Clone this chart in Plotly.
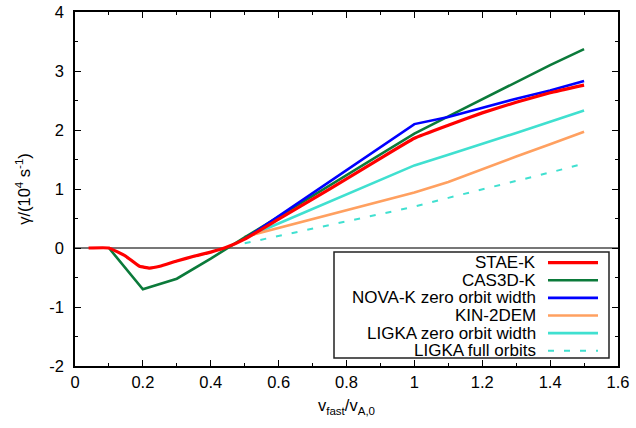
import plotly.graph_objects as go

# Growth rate vs. fast-particle velocity for the different codes
x_stae = [0.04, 0.10, 0.15, 0.19, 0.22, 0.25, 0.30, 0.35, 0.40, 0.45, 0.50,
          0.60, 0.70, 0.80, 0.90, 1.00, 1.10, 1.20, 1.30, 1.40, 1.50]
y_stae = [0.0, 0.0, -0.14, -0.31, -0.34, -0.31, -0.22, -0.14, -0.07, 0.02, 0.15,
          0.49, 0.83, 1.17, 1.52, 1.86, 2.08, 2.29, 2.47, 2.63, 2.76]

x_cas = [0.1, 0.2, 0.3, 0.4, 0.5, 1.0, 1.1, 1.2, 1.3, 1.4, 1.5]
y_cas = [0.0, -0.70, -0.52, -0.18, 0.18, 1.94, 2.23, 2.52, 2.81, 3.10, 3.37]

x_hi = [0.5, 1.0, 1.1, 1.2, 1.3, 1.4, 1.5]
y_nova = [0.15, 2.10, 2.22, 2.38, 2.53, 2.67, 2.83]
y_kin = [0.19, 0.94, 1.12, 1.34, 1.55, 1.76, 1.97]
y_ligka_zow = [0.17, 1.40, 1.58, 1.76, 1.95, 2.14, 2.33]
y_ligka_full = [0.08, 0.70, 0.85, 0.99, 1.13, 1.28, 1.43]

names = ["STAE-K", "CAS3D-K", "NOVA-K zero orbit width", "KIN-2DEM",
         "LIGKA zero orbit width", "LIGKA full orbits"]
colors = ["#ff0000", "#0b7a3a", "#0000ff", "#ffa060", "#40e0d0", "#40e0d0"]
widths = [3.2, 2.6, 2.6, 2.6, 2.6, 2.0]
dashes = ["solid", "solid", "solid", "solid", "solid", "6px,10px"]
shapes_ = ["spline", "linear", "linear", "linear", "linear", "linear"]
series = [(x_stae, y_stae), (x_cas, y_cas), (x_hi, y_nova), (x_hi, y_kin),
          (x_hi, y_ligka_zow), (x_hi, y_ligka_full)]

x_ticks = [0, 0.2, 0.4, 0.6, 0.8, 1.0, 1.2, 1.4, 1.6]
x_tick_text = ["0", "0.2", "0.4", "0.6", "0.8", "1", "1.2", "1.4", "1.6"]
y_ticks = [-2, -1, 0, 1, 2, 3, 4]
y_tick_text = ["-2", "-1", "0", "1", "2", "3", "4"]

FONT = "Liberation Sans, Arial, Helvetica, sans-serif"
W, H = 636, 428
L, R, T, B = 75, 18, 12, 62
pw, ph = W - L - R, H - T - B

fig = go.Figure()
# draw back-to-front so that STAE-K sits on top
order = [5, 4, 3, 1, 2, 0]
for i in order:
    xs, ys = series[i]
    fig.add_trace(go.Scatter(x=xs, y=ys, mode="lines", name=names[i],
                             line=dict(color=colors[i], width=widths[i], dash=dashes[i],
                                       shape=shapes_[i], smoothing=0.3),
                             showlegend=False))

axis_common = dict(showline=True, linecolor="black", linewidth=1.5, mirror="allticks",
                   ticks="inside", ticklen=6, tickwidth=1, tickcolor="black",
                   showgrid=False, tickfont=dict(family=FONT, size=16.5, color="black"))

fig.update_xaxes(range=[0, 1.6], tickvals=x_ticks, ticktext=x_tick_text, zeroline=False,
                 minor=dict(ticks="inside", ticklen=3, dtick=0.1, tickcolor="black"),
                 title=dict(text="v<sub>fast</sub>/v<sub>A,0</sub>",
                            font=dict(family=FONT, size=16.5, color="black"), standoff=10),
                 **axis_common)
fig.update_yaxes(range=[-2, 4], tickvals=y_ticks, ticktext=y_tick_text,
                 zeroline=True, zerolinecolor="#777777", zerolinewidth=1.5,
                 minor=dict(ticks="inside", ticklen=3, dtick=0.5, tickcolor="black"),
                 title=dict(text="\u03b3/(10<sup>4</sup> s<sup>-1</sup>)",
                            font=dict(family=FONT, size=16.5, color="black"), standoff=15),
                 ticklabelstandoff=6,
                 **axis_common)

# legend box in the lower-right corner, text right-aligned before each line sample
def px_x(p):
    return (p - L) / pw

def px_y(p):
    return (H - B - p) / ph

shapes = [dict(type="rect", xref="paper", yref="paper",
               x0=px_x(334), x1=px_x(609), y0=px_y(358), y1=px_y(252),
               line=dict(color="#222222", width=1.5), fillcolor="white", layer="above")]
annotations = []
row0, row_step = 262.7, 17.6
for k, name in enumerate(names):
    yy = px_y(row0 + k * row_step)
    annotations.append(dict(xref="paper", yref="paper", x=px_x(538), y=yy,
                            text=name, showarrow=False, xanchor="right", yanchor="middle",
                            font=dict(family=FONT, size=17, color="black")))
    shapes.append(dict(type="line", xref="paper", yref="paper",
                       x0=px_x(548), x1=px_x(598), y0=yy, y1=yy, layer="above",
                       line=dict(color=colors[k], width=widths[k], dash=dashes[k])))

fig.update_layout(width=W, height=H, margin=dict(l=L, r=R, t=T, b=B, autoexpand=False),
                  paper_bgcolor="white", plot_bgcolor="white",
                  font=dict(family=FONT, color="black"),
                  shapes=shapes, annotations=annotations, showlegend=False)

fig.write_html("out.html")
